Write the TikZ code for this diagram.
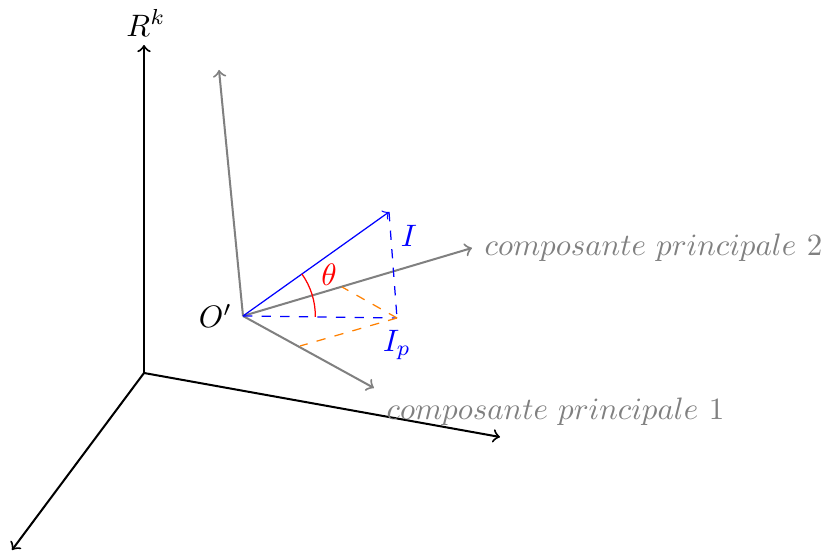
\documentclass[tikz,border=0pt]{standalone}
\usetikzlibrary{angles,quotes}
\begin{document}
\begin{tikzpicture}[x=0.01133cm,y=-0.01133cm,
  axisline/.style={line width=0.65pt,black,->},
  pcline/.style={line width=0.65pt,gray,->},
  pclabel/.style={gray,anchor=west,inner sep=0pt},
  projline/.style={thin,blue,dashed},
  orthline/.style={thin,orange,dashed}]
\path[use as bounding box] (0,0) rectangle (826,552);
% main frame
\coordinate (O) at (144,373);
\coordinate (Z) at (144,45);
\coordinate (X) at (500,437);
\coordinate (Y) at (12,550);
\draw[axisline] (O) -- (Z);
\draw[axisline] (O) -- (X);
\draw[axisline] (O) -- (Y);
\node (Rk) at (146,23) {$R^k$};
% principal components frame
\coordinate (Op) at (243,316);
\coordinate (A3) at (219,70);
\coordinate (A2) at (472,248);
\coordinate (A1) at (374,388);
\draw[pcline] (Op) -- (A3);
\draw[pcline] (Op) -- (A2);
\draw[pcline] (Op) -- (A1);
\node[pclabel] (L2) at (484,248) {$composante\ principale\ 2$};
\node[pclabel] (L1) at (386,412) {$composante\ principale\ 1$};
\node[anchor=east] (OpL) at (Op) {$O'$};
% vector I and projection
\coordinate (I) at (389,212);
\coordinate (Ip) at (397,318);
\coordinate (P2) at (342,287);
\coordinate (P1) at (300,346);
\draw[thin,blue,->] (Op) -- (I);
\draw[projline] (I) -- (Ip);
\draw[projline] (Op) -- (Ip);
\draw[orthline] (Ip) -- (P2);
\draw[orthline] (Ip) -- (P1);
\node[blue] (IL) at (409,236) {$I$};
\node[blue] (IpL) at (397,345) {$I_p$};
\pic[draw=red, thin, angle radius=0.82cm] {angle=Ip--Op--I};
\node[red] (th) at (329,275) {$\theta$};
\end{tikzpicture}
\end{document}
